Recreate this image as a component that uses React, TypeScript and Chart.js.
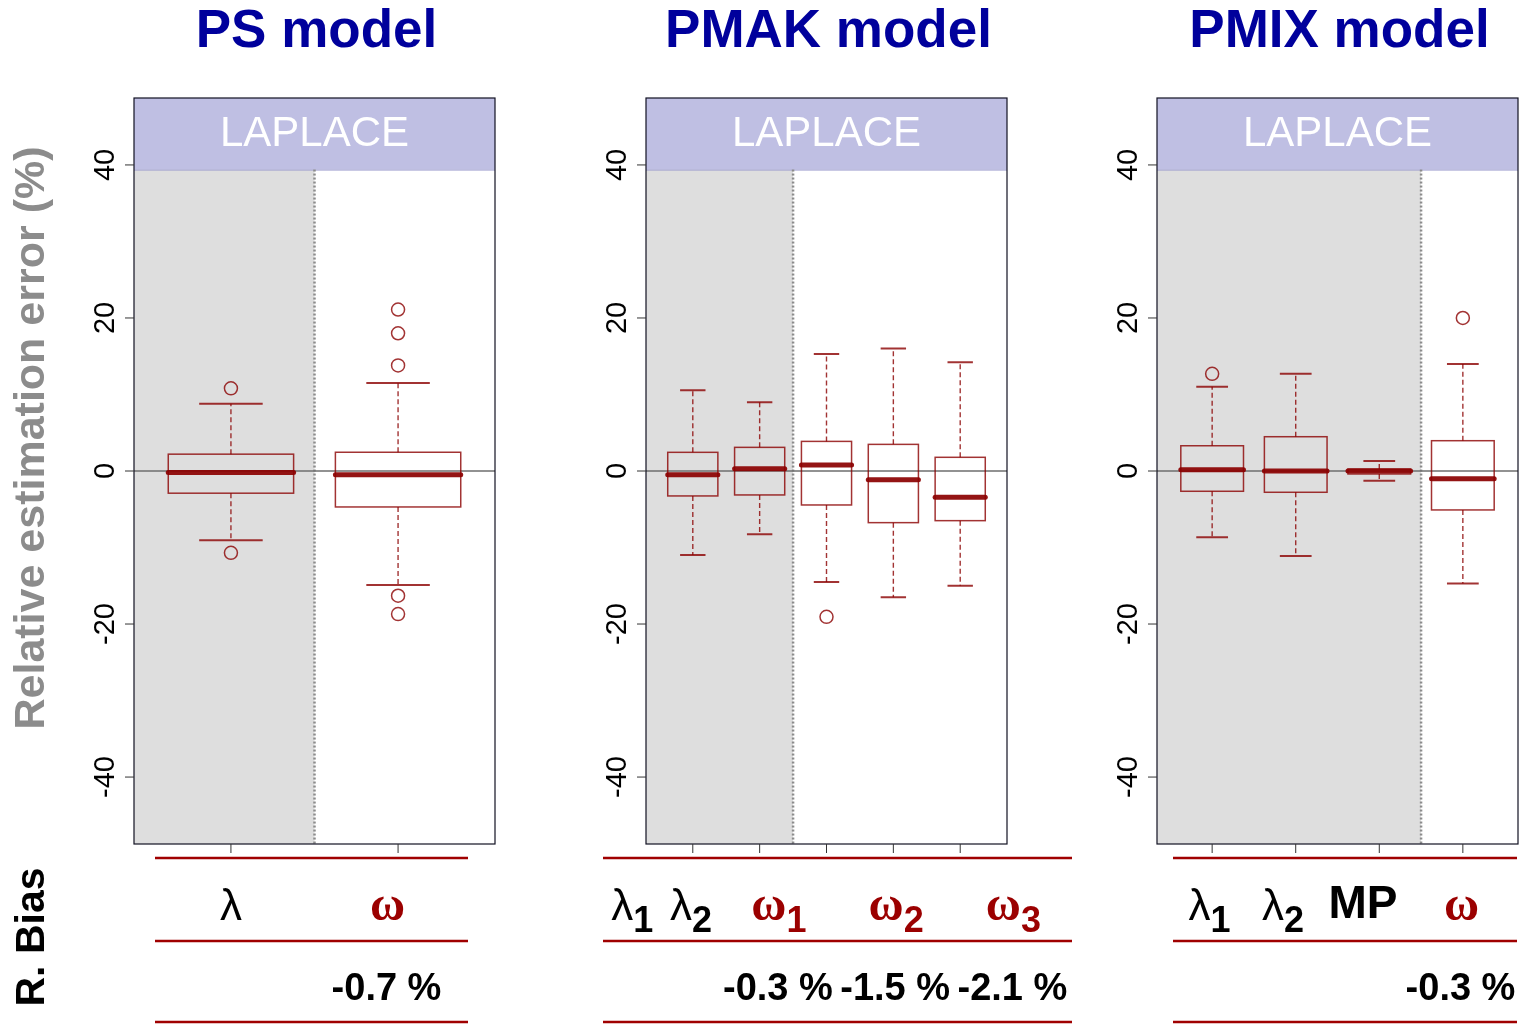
import React, { useEffect, useRef } from "react";
import { Chart, registerables } from "chart.js";
Chart.register(...registerables);

// ---------- shared axis values ----------
const Y_MIN = -48.75;
const Y_MAX = 48.75;
const Y_TICKS = [-40, -20, 0, 20, 40];
const STRIP_FROM = 39.4; // value where the LAPLACE strip begins

// ---------- PS model ----------
const PS_HEADS = [
  { main: "λ", sub: "", kind: "lambda" },
  { main: "ω", sub: "", kind: "omega" },
];
const PS_Q1 = [-2.9, -4.7];
const PS_MED = [-0.2, -0.5];
const PS_Q3 = [2.2, 2.45];
const PS_LO = [-9.05, -14.9];
const PS_HI = [8.8, 11.5];
const PS_OUT = [[10.8, -10.7], [21.1, 18.0, 13.8, -16.3, -18.7]];
const PS_BIAS = ["", "-0.7 %"];

// ---------- PMAK model ----------
const PMAK_HEADS = [
  { main: "λ", sub: "1", kind: "lambda" },
  { main: "λ", sub: "2", kind: "lambda" },
  { main: "ω", sub: "1", kind: "omega" },
  { main: "ω", sub: "2", kind: "omega" },
  { main: "ω", sub: "3", kind: "omega" },
];
const PMAK_Q1 = [-3.26, -3.13, -4.44, -6.75, -6.49];
const PMAK_MED = [-0.48, 0.3, 0.78, -1.13, -3.44];
const PMAK_Q3 = [2.44, 3.09, 3.87, 3.48, 1.79];
const PMAK_LO = [-10.97, -8.27, -14.5, -16.5, -15.0];
const PMAK_HI = [10.57, 8.97, 15.3, 16.0, 14.2];
const PMAK_OUT = [[], [], [-19.06], [], []];
const PMAK_BIAS = ["", "", "-0.3 %", "-1.5 %", "-2.1 %"];

// ---------- PMIX model ----------
const PMIX_HEADS = [
  { main: "λ", sub: "1", kind: "lambda" },
  { main: "λ", sub: "2", kind: "lambda" },
  { main: "MP", sub: "", kind: "text" },
  { main: "ω", sub: "", kind: "omega" },
];
const PMIX_Q1 = [-2.65, -2.78, -0.39, -5.09];
const PMIX_MED = [0.17, 0.0, 0.0, -1.0];
const PMIX_Q3 = [3.3, 4.48, 0.26, 3.96];
const PMIX_LO = [-8.66, -11.1, -1.27, -14.7];
const PMIX_HI = [11.0, 12.7, 1.3, 13.97];
const PMIX_OUT = [[12.7], [], [], [20.0]];
const PMIX_BIAS = ["", "", "", "-0.3 %"];

const TITLES = ["PS model", "PMAK model", "PMIX model"];
const STRIP_LABEL = "LAPLACE";

// ---------- layout (page pixels) ----------
type Head = { main: string; sub: string; kind: string };
type Panel = {
  title: string;
  heads: Head[];
  q1: number[]; med: number[]; q3: number[]; lo: number[]; hi: number[];
  out: number[][];
  bias: string[];
  canvasLeft: number; canvasWidth: number;
  areaLeft: number; areaRight: number;
  xMin: number; xMax: number; grayTo: number;
  tableEdges: number[];
  first: boolean;
};

const AREA_TOP = 98;
const AREA_BOTTOM = 844;
const H = 1024;

const PANELS: Panel[] = [
  {
    title: TITLES[0], heads: PS_HEADS, q1: PS_Q1, med: PS_MED, q3: PS_Q3, lo: PS_LO, hi: PS_HI, out: PS_OUT, bias: PS_BIAS,
    canvasLeft: 0, canvasWidth: 560, areaLeft: 134, areaRight: 495, xMin: 0.42, xMax: 2.58, grayTo: 1.5,
    tableEdges: [155, 307, 468], first: true,
  },
  {
    title: TITLES[1], heads: PMAK_HEADS, q1: PMAK_Q1, med: PMAK_MED, q3: PMAK_Q3, lo: PMAK_LO, hi: PMAK_HI, out: PMAK_OUT, bias: PMAK_BIAS,
    canvasLeft: 560, canvasWidth: 540, areaLeft: 646, areaRight: 1007, xMin: 0.3, xMax: 5.7, grayTo: 2.5,
    tableEdges: [603, 661.6, 720.3, 837.5, 954.8, 1072], first: false,
  },
  {
    title: TITLES[2], heads: PMIX_HEADS, q1: PMIX_Q1, med: PMIX_MED, q3: PMIX_Q3, lo: PMIX_LO, hi: PMIX_HI, out: PMIX_OUT, bias: PMIX_BIAS,
    canvasLeft: 1100, canvasWidth: 432, areaLeft: 1157, areaRight: 1518, xMin: 0.34, xMax: 4.66, grayTo: 3.5,
    tableEdges: [1173, 1246, 1320, 1406, 1517], first: false,
  },
];

const SANS = "'Liberation Sans', Arial, Helvetica, sans-serif";
const SERIF = "'Liberation Serif', 'Times New Roman', serif";
const BOX_COL = "rgba(139,0,0,0.8)";
const MED_COL = "rgba(139,0,0,0.92)";
const TABLE_RED = "#a00000";
const HALF_BOX = 0.375;
const HALF_CAP = 0.19;

function makePlugin(p: Panel) {
  return {
    id: "boxplots",
    beforeDatasetsDraw(chart: any) {
      const { ctx, chartArea } = chart;
      const { left, right, top, bottom } = chartArea;
      const x = chart.scales.x;
      const y = chart.scales.y;
      const stripY = y.getPixelForValue(STRIP_FROM);
      const gx = x.getPixelForValue(p.grayTo);
      ctx.save();
      ctx.fillStyle = "#ffffff";
      ctx.fillRect(left, top, right - left, bottom - top);
      ctx.fillStyle = "#dedede";
      ctx.fillRect(left, stripY, gx - left, bottom - stripY);
      ctx.fillStyle = "#bfbfe3";
      ctx.fillRect(left, top, right - left, stripY - top);
      ctx.strokeStyle = "#9a9acc";
      ctx.lineWidth = 1;
      ctx.beginPath();
      ctx.moveTo(left, stripY + 0.5);
      ctx.lineTo(right, stripY + 0.5);
      ctx.stroke();
      ctx.fillStyle = "#ffffff";
      ctx.font = `42px ${SANS}`;
      ctx.textAlign = "center";
      ctx.textBaseline = "middle";
      ctx.fillText(STRIP_LABEL, (left + right) / 2, (top + stripY) / 2 + 1);
      // dotted separator
      ctx.strokeStyle = "#8c8c8c";
      ctx.lineWidth = 2.5;
      ctx.setLineDash([2, 2]);
      ctx.beginPath();
      ctx.moveTo(gx, stripY);
      ctx.lineTo(gx, bottom);
      ctx.stroke();
      ctx.setLineDash([]);
      // zero line
      const y0 = y.getPixelForValue(0);
      ctx.strokeStyle = "#6e6e6e";
      ctx.lineWidth = 1.3;
      ctx.beginPath();
      ctx.moveTo(left, y0);
      ctx.lineTo(right, y0);
      ctx.stroke();
      // boxes
      for (let i = 0; i < p.q1.length; i++) {
        const pos = i + 1;
        const cx = x.getPixelForValue(pos);
        const bl = x.getPixelForValue(pos - HALF_BOX);
        const br = x.getPixelForValue(pos + HALF_BOX);
        const cl = x.getPixelForValue(pos - HALF_CAP);
        const cr = x.getPixelForValue(pos + HALF_CAP);
        const yq1 = y.getPixelForValue(p.q1[i]);
        const yq3 = y.getPixelForValue(p.q3[i]);
        const ym = y.getPixelForValue(p.med[i]);
        const ylo = y.getPixelForValue(p.lo[i]);
        const yhi = y.getPixelForValue(p.hi[i]);
        ctx.strokeStyle = BOX_COL;
        // whiskers
        ctx.lineWidth = 1.4;
        ctx.setLineDash([5, 3]);
        ctx.beginPath();
        ctx.moveTo(cx, yq3);
        ctx.lineTo(cx, yhi);
        ctx.moveTo(cx, yq1);
        ctx.lineTo(cx, ylo);
        ctx.stroke();
        ctx.setLineDash([]);
        // caps
        ctx.lineWidth = 2;
        ctx.beginPath();
        ctx.moveTo(cl, yhi);
        ctx.lineTo(cr, yhi);
        ctx.moveTo(cl, ylo);
        ctx.lineTo(cr, ylo);
        ctx.stroke();
        // box
        ctx.lineWidth = 1.5;
        ctx.strokeRect(bl, yq3, br - bl, yq1 - yq3);
        // median
        ctx.strokeStyle = MED_COL;
        ctx.lineWidth = 5;
        ctx.lineCap = "round";
        ctx.beginPath();
        ctx.moveTo(bl, ym);
        ctx.lineTo(br, ym);
        ctx.stroke();
        ctx.lineCap = "butt";
      }
      ctx.restore();
    },
    afterDraw(chart: any) {
      const { ctx, chartArea } = chart;
      const { left, right, top, bottom } = chartArea;
      const x = chart.scales.x;
      const y = chart.scales.y;
      const off = p.canvasLeft;
      ctx.save();
      // frame
      ctx.strokeStyle = "#111122";
      ctx.lineWidth = 1.2;
      ctx.strokeRect(left, top, right - left, bottom - top);
      // y ticks
      ctx.strokeStyle = "#333";
      ctx.lineWidth = 1;
      ctx.fillStyle = "#000";
      ctx.font = `29px ${SANS}`;
      for (const t of Y_TICKS) {
        const py = y.getPixelForValue(t);
        ctx.beginPath();
        ctx.moveTo(left - 9, py);
        ctx.lineTo(left, py);
        ctx.stroke();
        ctx.save();
        ctx.translate(left - 28, py);
        ctx.rotate(-Math.PI / 2);
        ctx.textAlign = "center";
        ctx.textBaseline = "middle";
        ctx.fillText(String(t), 0, 0);
        ctx.restore();
      }
      // x ticks
      for (let i = 0; i < p.q1.length; i++) {
        const px = x.getPixelForValue(i + 1);
        ctx.beginPath();
        ctx.moveTo(px, bottom);
        ctx.lineTo(px, bottom + 9);
        ctx.stroke();
      }
      // title
      ctx.fillStyle = "#00009c";
      ctx.font = `bold 53px ${SANS}`;
      ctx.textAlign = "center";
      ctx.textBaseline = "alphabetic";
      ctx.fillText(p.title, (left + right) / 2 + 2, 47);
      // table lines
      const tl = p.tableEdges[0] - off;
      const tr = p.tableEdges[p.tableEdges.length - 1] - off;
      ctx.strokeStyle = TABLE_RED;
      ctx.lineWidth = 2.6;
      for (const ly of [858, 941, 1022]) {
        ctx.beginPath();
        ctx.moveTo(tl, ly);
        ctx.lineTo(tr, ly);
        ctx.stroke();
      }
      // headers and bias values
      for (let i = 0; i < p.heads.length; i++) {
        const cx = (p.tableEdges[i] + p.tableEdges[i + 1]) / 2 - off;
        const h = p.heads[i];
        let mainFont = `44px ${SANS}`;
        let color = "#000";
        let base = 920;
        if (h.kind === "omega") { mainFont = `bold 48px ${SERIF}`; color = "#9b0000"; }
        if (h.kind === "text") { mainFont = `bold 46px ${SANS}`; base = 918; }
        const subFont = `bold 36px ${SANS}`;
        ctx.font = mainFont;
        const wm = ctx.measureText(h.main).width;
        ctx.font = subFont;
        const ws = h.sub ? ctx.measureText(h.sub).width : 0;
        const sx = cx - (wm + ws) / 2;
        ctx.fillStyle = color;
        ctx.textAlign = "left";
        ctx.font = mainFont;
        ctx.fillText(h.main, sx, base);
        if (h.sub) {
          ctx.font = subFont;
          ctx.fillText(h.sub, sx + wm, 932);
        }
        if (p.bias[i]) {
          ctx.fillStyle = "#000";
          ctx.font = `bold 38px ${SANS}`;
          ctx.textAlign = "center";
          ctx.fillText(p.bias[i], cx - 1, 1000);
        }
      }
      if (p.first) {
        ctx.save();
        ctx.translate(44, 438);
        ctx.rotate(-Math.PI / 2);
        ctx.textAlign = "center";
        ctx.textBaseline = "alphabetic";
        ctx.fillStyle = "#8c8c8c";
        ctx.font = `bold 43px ${SANS}`;
        ctx.fillText("Relative estimation error (%)", 0, 0);
        ctx.restore();
        ctx.save();
        ctx.translate(44, 937);
        ctx.rotate(-Math.PI / 2);
        ctx.textAlign = "center";
        ctx.fillStyle = "#000";
        ctx.font = `bold 41px ${SANS}`;
        ctx.fillText("R. Bias", 0, 0);
        ctx.restore();
      }
      ctx.restore();
    },
  };
}

function PanelChart({ p }: { p: Panel }) {
  const ref = useRef<HTMLCanvasElement | null>(null);
  useEffect(() => {
    const canvas = ref.current;
    if (!canvas) return;
    const outliers = p.out.flatMap((arr, i) => arr.map((v) => ({ x: i + 1, y: v })));
    const chart = new Chart(canvas, {
      type: "scatter",
      data: {
        datasets: [
          {
            label: "outliers",
            data: outliers,
            pointStyle: "circle",
            pointRadius: 6.5,
            pointBorderWidth: 1.5,
            borderColor: BOX_COL,
            backgroundColor: "rgba(0,0,0,0)",
            showLine: false,
          } as any,
        ],
      },
      options: {
        animation: false,
        responsive: false,
        devicePixelRatio: 1,
        events: [],
        layout: {
          padding: {
            left: p.areaLeft - p.canvasLeft,
            right: p.canvasLeft + p.canvasWidth - p.areaRight,
            top: AREA_TOP,
            bottom: H - AREA_BOTTOM,
          },
        },
        plugins: { legend: { display: false }, tooltip: { enabled: false }, title: { display: false } },
        scales: {
          x: { type: "linear", display: false, min: p.xMin, max: p.xMax, offset: false },
          y: { type: "linear", display: false, min: Y_MIN, max: Y_MAX },
        },
      },
      plugins: [makePlugin(p)],
    });
    return () => chart.destroy();
  }, [p]);
  return (
    <canvas
      ref={ref}
      width={p.canvasWidth}
      height={H}
      style={{ position: "absolute", left: p.canvasLeft, top: 0, width: p.canvasWidth, height: H }}
    />
  );
}

export default function App() {
  return (
    <div style={{ position: "absolute", left: 0, top: 0, width: 1532, height: H, background: "#fff", overflow: "hidden" }}>
      {PANELS.map((p, i) => (
        <PanelChart key={i} p={p} />
      ))}
    </div>
  );
}
